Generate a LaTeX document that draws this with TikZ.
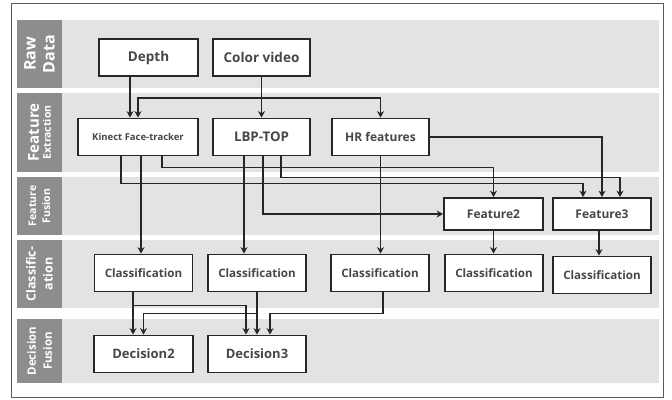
\documentclass[tikz,border=0pt]{standalone}
\usepackage{fontspec}
\setmainfont{Open Sans}
\usetikzlibrary{arrows.meta}
\definecolor{bandc}{HTML}{E3E3E5}
\definecolor{labc}{HTML}{8D8D8F}
\definecolor{ink}{HTML}{262626}
\definecolor{framec}{HTML}{5A5A5A}
\begin{document}
\begin{tikzpicture}[x=1pt,y=-1pt,
  box/.style={draw=ink, line width=1.8pt, fill=white, inner sep=0pt,
    minimum width=98pt, minimum height=37pt, text=ink!85,
    font=\bfseries\fontsize{11.6}{13}\selectfont},
  conn/.style={draw=ink, line width=1.7pt},
  arr/.style={conn, -{Stealth[length=6.5pt,width=7pt]}},
  band/.style={fill=bandc, draw=none},
  lab/.style={fill=labc, draw=none},
  labtext/.style={text=white, rotate=90, align=center, font=\bfseries}]
\useasboundingbox (0,0) rectangle (672,399);
\fill[white] (0,0) rectangle (672,399);
\draw[framec, line width=1pt] (11,3) rectangle (663,397);
% bands
\fill[band] (17,20) rectangle (659,88);
\fill[band] (17,93) rectangle (659,172);
\fill[band] (17,177) rectangle (659,235);
\fill[band] (17,240) rectangle (659,308);
\fill[band] (17,319) rectangle (659,383);
\fill[lab] (17,20) rectangle (62,88);
\fill[lab] (17,93) rectangle (62,172);
\fill[lab] (17,177) rectangle (62,235);
\fill[lab] (17,240) rectangle (62,308);
\fill[lab] (17,319) rectangle (62,383);
\node[labtext, font=\bfseries\fontsize{16}{19}\selectfont] (l1) at (39.5,54) {Raw\\Data};
\node[labtext] (l2) at (39.5,132.5) {{\fontsize{15}{18}\selectfont Feature}\\{\fontsize{10.5}{14}\selectfont Extraction}};
\node[labtext, font=\bfseries\fontsize{10.5}{14}\selectfont] (l3) at (39.5,206) {Feature\\Fusion};
\node[labtext, font=\bfseries\fontsize{12.5}{17}\selectfont] (l4) at (39.5,274) {Classific-\\ation};
\node[labtext, font=\bfseries\fontsize{11.5}{16}\selectfont] (l5) at (39.5,351) {Decision\\Fusion};
% nodes
\node[box, minimum width=99pt, font=\bfseries\fontsize{13.5}{15}\selectfont] (depth) at (148.5,57.5) {Depth};
\node[box, minimum width=97pt, font=\bfseries\fontsize{13.5}{15}\selectfont] (cv) at (261.5,57.5) {Color video};
\node[box, minimum width=120pt, font=\bfseries\fontsize{9.5}{11}\selectfont] (kin) at (138,137) {Kinect Face-tracker};
\node[box, minimum width=97pt, font=\bfseries\fontsize{13.3}{15}\selectfont] (lbp) at (261.5,137) {LBP-TOP};
\node[box, minimum width=97pt, font=\bfseries\fontsize{12}{14}\selectfont] (hr) at (380.5,137) {HR features};
\node[box, minimum width=99pt, minimum height=32pt, font=\bfseries\fontsize{12}{14}\selectfont] (f2) at (493.5,214) {Feature2};
\node[box, minimum width=98pt, minimum height=32pt, font=\bfseries\fontsize{12}{14}\selectfont] (f3) at (602,214) {Feature3};
\node[box] (c1) at (143.5,273) {Classification};
\node[box] (c2) at (257,273) {Classification};
\node[box] (c3) at (380,273) {Classification};
\node[box] (c4) at (494,273) {Classification};
\node[box] (c5) at (602,275) {Classification};
\node[box, minimum width=99pt, font=\bfseries\fontsize{13}{15}\selectfont] (d2) at (143.5,354) {Decision2};
\node[box, font=\bfseries\fontsize{13}{15}\selectfont] (d3) at (257,354) {Decision3};
% raw -> extraction
\coordinate (j1) at (261.5,98);
\draw[arr] ([xshift=-18.5pt]depth.south) -- ([xshift=-18.5pt]depth.south |- kin.north);
\draw[arr] (cv.south) -- (lbp.north);
\draw[arr] (j1) -| (kin.north);
\draw[arr] (j1) -| (hr.north);
% extraction -> fusion / classification
\draw[arr] ([xshift=3pt]kin.south) -- ([xshift=3pt]kin.south |- c1.north);
\draw[arr] ([xshift=24pt]kin.south) -- ++(0,11) -| (f2.north);
\draw[arr] ([xshift=-17pt]kin.south) -- ++(0,27) -| ([xshift=-19pt]f3.north);
\draw[arr] ([xshift=-17.5pt]lbp.south) -- ([xshift=-17.5pt]lbp.south |- c2.north);
\draw[arr] ([xshift=1.5pt]lbp.south) |- (f2.west);
\draw[arr] ([xshift=19.5pt]lbp.south) -- ++(0,21) -| ([xshift=18pt]f3.north);
\draw[arr] (hr.south) -- (hr.south |- c3.north);
\draw[arr] (hr.east) -| (f3.north);
\draw[arr] (f2.south) -- (f2.south |- c4.north);
\draw[arr] ([xshift=-3pt]f3.south) -- ([xshift=-3pt]f3.south |- c5.north);
% classification -> decision
\draw[arr] ([xshift=-10.5pt]c1.south) -- ([xshift=-10.5pt]c1.south |- d2.north);
\draw[arr] ([xshift=-10.5pt]c1.south) -- ++(0,13) -| ([xshift=-11pt]d3.north);
\draw[arr] (c2.south) -- (d3.north);
\draw[arr] (c2.south) -- ++(0,21) -| (d2.north);
\draw[arr] ([xshift=3pt]c3.south) -- ++(0,21) -| ([xshift=13pt]d3.north);
\end{tikzpicture}
\end{document}
